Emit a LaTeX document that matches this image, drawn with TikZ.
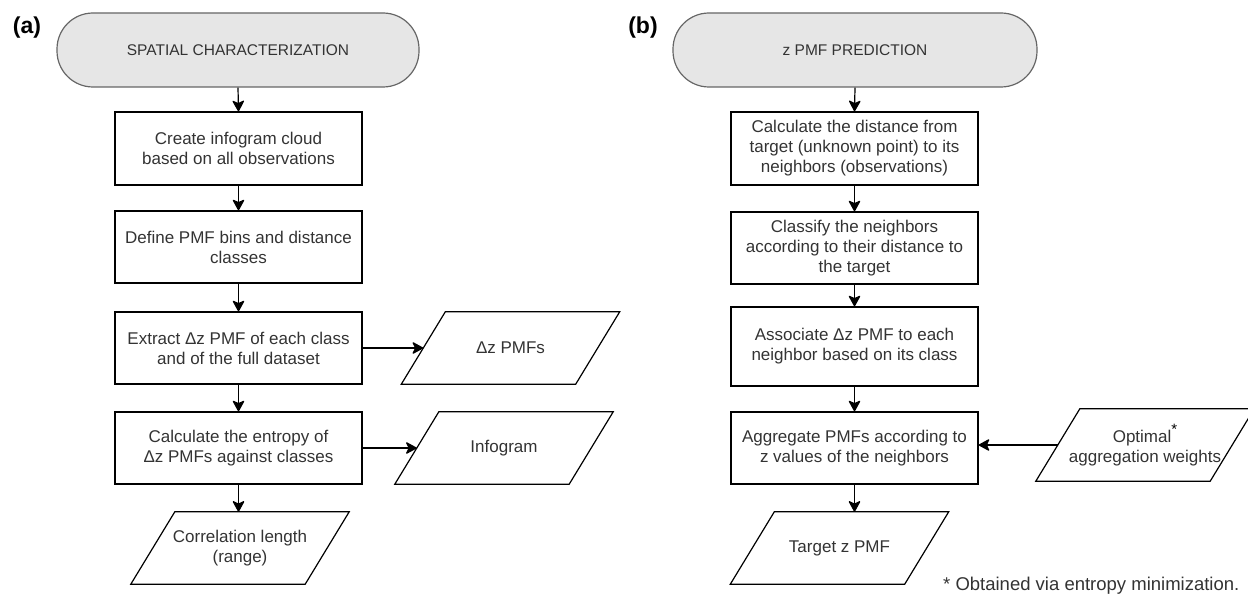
\documentclass[tikz,border=0pt]{standalone}
\usepackage{fontspec}
\setmainfont{Liberation Sans}
\usetikzlibrary{arrows.meta,calc}
\definecolor{txt}{HTML}{333333}
\definecolor{termfill}{HTML}{E6E6E6}
\definecolor{termdraw}{HTML}{666666}
\tikzset{
  boxtext/.style={font=\fontsize{17}{20}\selectfont, text=txt, align=center},
  stepbox/.style={boxtext, draw=black, line width=1.2pt, rectangle, inner sep=0pt, minimum width=247pt, minimum height=72pt},
  termbox/.style={draw=termdraw, fill=termfill, line width=1.2pt, rounded corners=36pt, inner sep=0pt, minimum height=74pt, font=\fontsize{15.5}{18}\selectfont, text=txt},
  iobox/.style={boxtext, inner sep=0pt, minimum width=174pt, minimum height=72pt},
  iodraw/.style={draw=black, line width=1.2pt},
  conn/.style={draw=black, line width=1.2pt, -{Stealth[length=12pt,width=13pt,inset=3pt,round]}},
  panel/.style={font=\fontsize{23}{26}\selectfont\bfseries, text=black, inner sep=0pt}
}
\begin{document}
\begin{tikzpicture}[x=1pt,y=-1pt]
\useasboundingbox (0,0) rectangle (1248,599);
% panel labels
\node[panel] (la) at (27,28) {(a)};
\node[panel] (lb) at (643,28) {(b)};
% ----- panel (a)
\node[termbox, minimum width=362pt] (termA) at (238,50) {SPATIAL CHARACTERIZATION};
\node[stepbox, minimum height=73pt] (a1) at (238.5,148.5) {Create infogram cloud\\based on all observations};
\node[stepbox] (a2) at (238.5,247) {Define PMF bins and distance\\classes};
\node[stepbox] (a3) at (238.5,348) {Extract Δz PMF of each class\\and of the full dataset};
\node[stepbox] (a4) at (238.5,448) {Calculate the entropy of\\Δz PMFs against classes};
\node[iobox] (outA) at (240,548) {Correlation length\\(range)};
\node[iobox] (pmfA) at (510.5,348) {Δz PMFs};
\node[iobox] (infoA) at (504,448) {Infogram};
% ----- panel (b)
\node[termbox, minimum width=364pt] (termB) at (855,50) {z PMF PREDICTION};
\node[stepbox, minimum height=73pt] (b1) at (854.5,148.5) {Calculate the distance from\\target (unknown point) to its\\neighbors (observations)};
\node[stepbox] (b2) at (854.5,248) {Classify the neighbors\\according to their distance to\\the target};
\node[stepbox, minimum height=79pt] (b3) at (854.5,346.5) {Associate Δz PMF to each\\neighbor based on its class};
\node[stepbox] (b4) at (854.5,448) {Aggregate PMFs according to\\z values of the neighbors};
\node[iobox] (outB) at (839.5,548) {Target z PMF};
\node[iobox] (optB) at (1145,445) {Optimal\raisebox{0.45em}{\textcolor{black}{\fontsize{15}{15}\selectfont *}}\\aggregation weights};
\node[font=\fontsize{18.5}{20}\selectfont, text=txt, anchor=west, inner sep=0pt] (foot) at (943,586) {* Obtained via entropy minimization.};
% parallelograms
\foreach \n in {outA,pmfA,infoA,outB,optB}
  \draw[iodraw] ($(\n.south west)+(-22,0)$) -- ($(\n.south east)+(-22,0)$) -- ($(\n.north east)+(22,0)$) -- ($(\n.north west)+(22,0)$) -- cycle;
% connectors (a)
\draw[conn] (termA.south) -- (a1.north);
\draw[conn] (a1.south) -- (a2.north);
\draw[conn] (a2.south) -- (a3.north);
\draw[conn] (a3.south) -- (a4.north);
\draw[conn] (a4.south) -- (a4.south |- outA.north);
\draw[conn] (a3.east) -- (pmfA.west);
\draw[conn] (a4.east) -- (infoA.west);
% connectors (b)
\draw[conn] (termB.south) -- (b1.north);
\draw[conn] (b1.south) -- (b2.north);
\draw[conn] (b2.south) -- (b3.north);
\draw[conn] (b3.south) -- (b4.north);
\draw[conn] (b4.south) -- (b4.south |- outB.north);
\draw[conn] (optB.west) -- (optB.west -| b4.east);
\end{tikzpicture}
\end{document}
